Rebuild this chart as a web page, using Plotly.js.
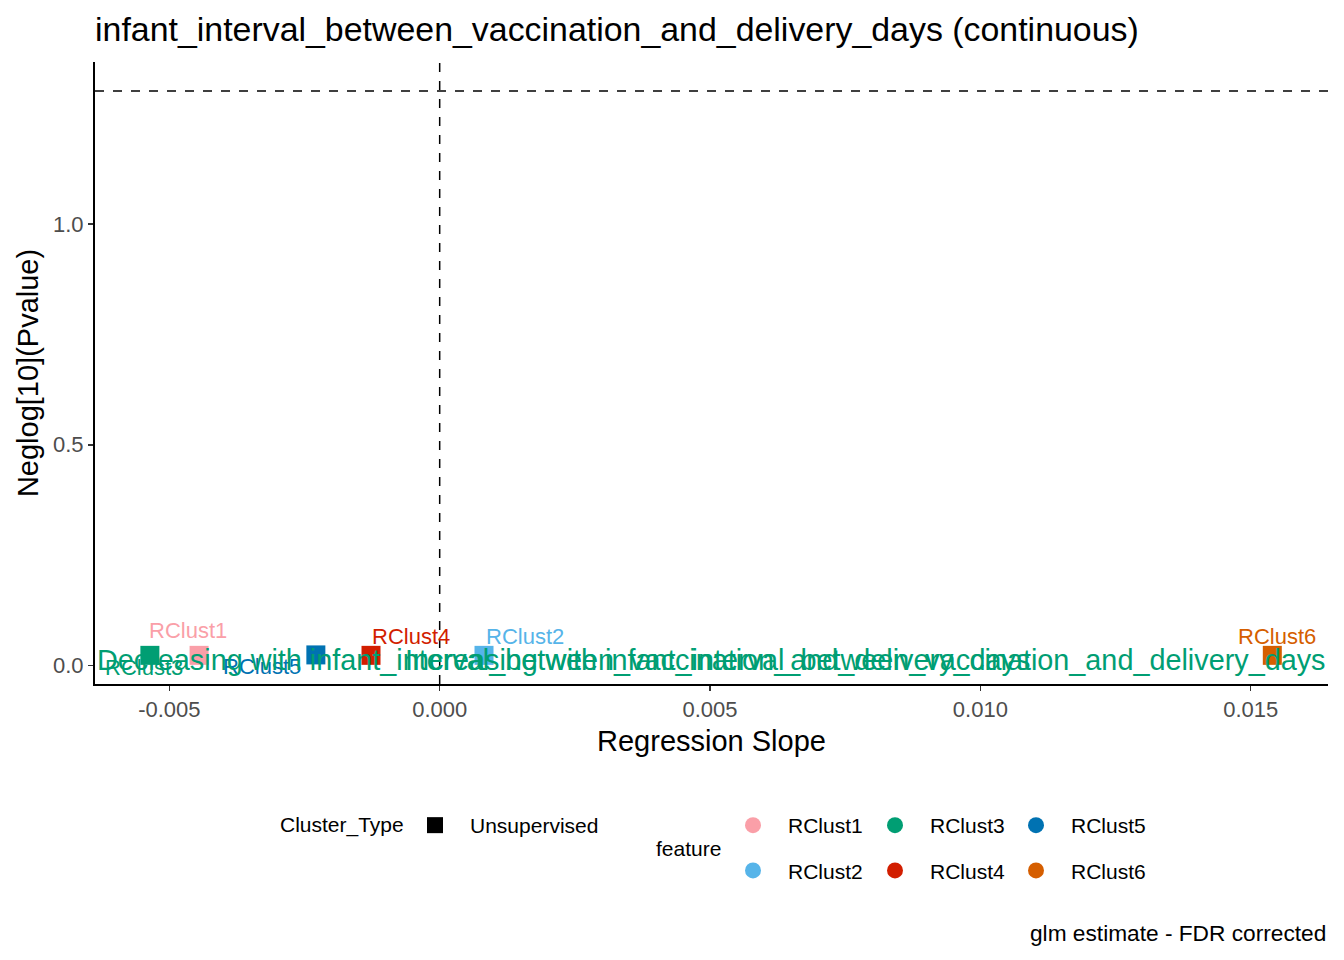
<!DOCTYPE html>
<html>
<head>
<meta charset="utf-8">
<script src="https://cdn.plot.ly/plotly-3.0.1.min.js"></script>
<style>html,body{margin:0;padding:0;background:#fff;}#chart{width:1344px;height:960px;}</style>
</head>
<body>
<div id="chart"></div>
<script>
// ---- data ----
const features = ['RClust1', 'RClust2', 'RClust3', 'RClust4', 'RClust5', 'RClust6'];
const slopes = [-0.00445, 0.00082, -0.00536, -0.00127, -0.00229, 0.01540];
const neglogP = [0.023, 0.023, 0.023, 0.023, 0.024, 0.023];
const clusterTypes = ['Unsupervised'];
const featureColors = ['#FA9FA8', '#56B4E9', '#009E73', '#D21E00', '#0072B2', '#D55E00'];
const pThreshold = 0.05;
const titleText = 'infant_interval_between_vaccination_and_delivery_days (continuous)';
const xTitle = 'Regression Slope';
const yTitle = 'Neglog[10](Pvalue)';
const decreasingText = 'Decreasing with infant_interval_between_vaccination_and_delivery_days';
const increasingText = 'Increasing with infant_interval_between_vaccination_and_delivery_days';
const captionText = 'glm estimate - FDR corrected';
const xTickVals = [-0.005, 0.000, 0.005, 0.010, 0.015];
const xTickText = ['-0.005', '0.000', '0.005', '0.010', '0.015'];
const yTickVals = [0.0, 0.5, 1.0];
const yTickText = ['0.0', '0.5', '1.0'];

// label offsets (pixels) for the repelled labels
const labelShift = {
  RClust1: [-11, 25], RClust2: [41, 19], RClust3: [-6, -12],
  RClust4: [40, 19], RClust5: [-54, -12], RClust6: [5, 19]
};

const FONT = 'Liberation Sans, Arial, sans-serif';
const traces = [];

// plotted squares
features.forEach((f, i) => {
  traces.push({
    type: 'scatter', mode: 'markers',
    x: [slopes[i]], y: [neglogP[i]],
    marker: {symbol: 'square', size: 19, color: featureColors[i]},
    showlegend: false, hoverinfo: 'x+y', name: f
  });
});

// legend: Cluster_Type
traces.push({
  type: 'scatter', mode: 'markers', x: [null], y: [null],
  name: clusterTypes[0], legend: 'legend',
  marker: {symbol: 'square', size: 18, color: '#000000'}
});

// legend: feature (3 columns of 2)
const legendNames = ['legend2', 'legend3', 'legend4'];
features.forEach((f, i) => {
  traces.push({
    type: 'scatter', mode: 'markers', x: [null], y: [null],
    name: f, legend: legendNames[Math.floor(i / 2)], legendgroup: f,
    marker: {symbol: 'circle', size: 18, color: featureColors[i]}
  });
});

const annotations = [];
features.forEach((f, i) => {
  annotations.push({
    x: slopes[i], y: neglogP[i], xref: 'x', yref: 'y',
    text: f, showarrow: false,
    xshift: labelShift[f][0], yshift: labelShift[f][1],
    font: {family: FONT, size: 22, color: featureColors[i]}
  });
});
annotations.push({
  x: 0, xref: 'paper', xanchor: 'left', y: 0, yref: 'y', yanchor: 'middle', yshift: 6,
  text: decreasingText, showarrow: false,
  font: {family: FONT, size: 28.8, color: '#009E73'}
});
annotations.push({
  x: 1, xref: 'paper', xanchor: 'right', y: 0, yref: 'y', yanchor: 'middle', yshift: 6,
  text: increasingText, showarrow: false,
  font: {family: FONT, size: 28.8, color: '#009E73'}
});
annotations.push({
  x: 1, xref: 'paper', xanchor: 'right', y: (684 - 933) / 622, yref: 'paper', yanchor: 'middle',
  text: captionText, showarrow: false,
  font: {family: FONT, size: 22.7, color: '#000000'}
});
annotations.push({
  x: (278 - 95) / 1233, xref: 'paper', xanchor: 'left', y: (684 - 825) / 622, yref: 'paper', yanchor: 'middle',
  text: 'Cluster_Type', showarrow: false,
  font: {family: FONT, size: 21, color: '#000000'}
});
annotations.push({
  x: (688 - 95) / 1233, xref: 'paper', xanchor: 'center', y: (684 - 849) / 622, yref: 'paper', yanchor: 'middle',
  text: 'feature', showarrow: false,
  font: {family: FONT, size: 21, color: '#000000'}
});

const legendBase = {
  orientation: 'v', yanchor: 'top', xanchor: 'left', itemwidth: 60,
  font: {family: FONT, size: 21, color: '#000000'},
  bgcolor: 'rgba(0,0,0,0)', tracegroupgap: 15, itemclick: false
};
const legendTop = (684 - 805) / 622;

const layout = {
  width: 1344, height: 960,
  paper_bgcolor: '#ffffff', plot_bgcolor: '#ffffff',
  margin: {l: 95, r: 16, t: 62, b: 276},
  font: {family: FONT},
  title: {
    text: titleText, x: 95 / 1344, xref: 'container', xanchor: 'left',
    y: 1 - 29 / 960, yref: 'container', yanchor: 'middle',
    font: {family: FONT, size: 33.9, color: '#000000'}
  },
  xaxis: {
    range: [-0.006375, 0.01643], tickvals: xTickVals, ticktext: xTickText,
    showgrid: false, zeroline: false, showline: true, linecolor: '#000000', linewidth: 2,
    ticks: 'outside', ticklen: 5, tickwidth: 1.5, tickcolor: '#333333',
    tickfont: {family: FONT, size: 22, color: '#4D4D4D'},
    title: {text: xTitle, standoff: 9, font: {family: FONT, size: 29, color: '#000000'}}
  },
  yaxis: {
    range: [-0.0419, 1.367], tickvals: yTickVals, ticktext: yTickText,
    showgrid: false, zeroline: false, showline: true, linecolor: '#000000', linewidth: 2,
    ticks: 'outside', ticklen: 5, tickwidth: 1.5, tickcolor: '#333333',
    tickfont: {family: FONT, size: 22, color: '#4D4D4D'},
    title: {text: yTitle, standoff: 6, font: {family: FONT, size: 29, color: '#000000'}}
  },
  shapes: [
    {type: 'line', xref: 'x', yref: 'paper', x0: 0, x1: 0, y0: 0, y1: 1,
     line: {color: '#000000', width: 1.5, dash: 'dash'}},
    {type: 'line', xref: 'paper', yref: 'y', x0: 0, x1: 1,
     y0: -Math.log10(pThreshold), y1: -Math.log10(pThreshold),
     line: {color: '#000000', width: 1.5, dash: 'dash'}}
  ],
  annotations: annotations,
  showlegend: true,
  legend: Object.assign({}, legendBase, {x: (435 - 35 - 95) / 1233, y: legendTop}),
  legend2: Object.assign({}, legendBase, {x: (753 - 35 - 95) / 1233, y: legendTop}),
  legend3: Object.assign({}, legendBase, {x: (895 - 35 - 95) / 1233, y: legendTop}),
  legend4: Object.assign({}, legendBase, {x: (1036 - 35 - 95) / 1233, y: legendTop})
};

Plotly.newPlot('chart', traces, layout, {displayModeBar: false, staticPlot: true});
</script>
</body>
</html>
